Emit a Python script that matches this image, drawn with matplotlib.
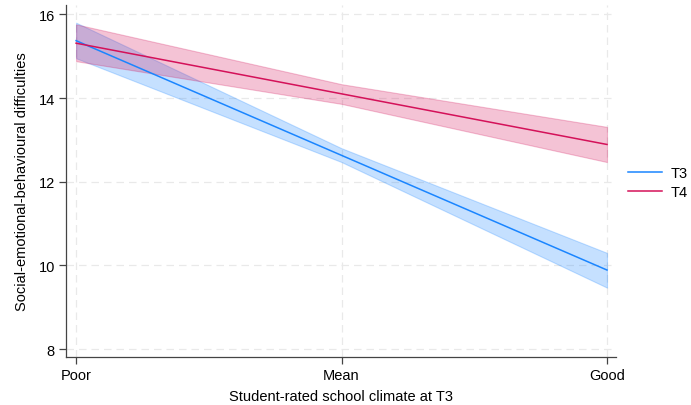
import numpy as np
import matplotlib
matplotlib.use("Agg")
import matplotlib.pyplot as plt

plt.rcParams['font.family'] = ['Liberation Sans', 'DejaVu Sans']

# climate levels (Poor / Mean / Good) coded -1, 0, 1
climate = [-1, 0, 1]
climate_labels = ["Poor", "Mean", "Good"]

# predicted difficulties with 95% CI
t3_mean = [15.37, 12.63, 9.89]
t3_low = [14.95, 12.47, 9.47]
t3_high = [15.80, 12.80, 10.30]

t4_mean = [15.31, 14.10, 12.89]
t4_low = [14.88, 13.86, 12.47]
t4_high = [15.76, 14.33, 13.31]

blue = "#1a85ff"
red = "#d41159"

fig = plt.figure(figsize=(6.91, 4.06), dpi=100)
ax = fig.add_axes([0.0955, 0.118, 0.796, 0.867])

ax.fill_between(climate, t3_low, t3_high, color=blue, alpha=0.25, lw=0.8, edgecolor=blue, zorder=2)
ax.fill_between(climate, t4_low, t4_high, color=red, alpha=0.25, lw=0.8, edgecolor=red, zorder=2)
ax.plot(climate, t3_mean, color=blue, lw=1.1, label="T3", zorder=3)
ax.plot(climate, t4_mean, color=red, lw=1.1, label="T4", zorder=3)

ax.set_xlim(-1.038, 1.034)
ax.set_ylim(7.81, 16.22)
ax.set_xticks(climate)
ax.set_xticklabels(climate_labels)
ax.set_yticks([8, 10, 12, 14, 16])

ax.grid(True, ls=(0, (6, 4)), color="#e9e9e9", lw=0.9, zorder=0)
for s in ["top", "right"]:
    ax.spines[s].set_visible(False)
for s in ["left", "bottom"]:
    ax.spines[s].set_color("#444444")
    ax.spines[s].set_linewidth(0.9)
ax.tick_params(axis="both", labelsize=10.5, length=5, width=0.9, color="#444444", pad=3)

ax.set_xlabel("Student-rated school climate at T3", fontsize=10.5, labelpad=5)
ax.set_ylabel("Social-emotional-behavioural difficulties", fontsize=10.5, labelpad=7)

fig.legend(loc="center left", bbox_to_anchor=(0.909, 0.547), frameon=False,
           fontsize=10.5, handlelength=2.3, handletextpad=0.6, labelspacing=0.35,
           borderaxespad=0, borderpad=0)

fig.savefig("out.png", dpi=100)
